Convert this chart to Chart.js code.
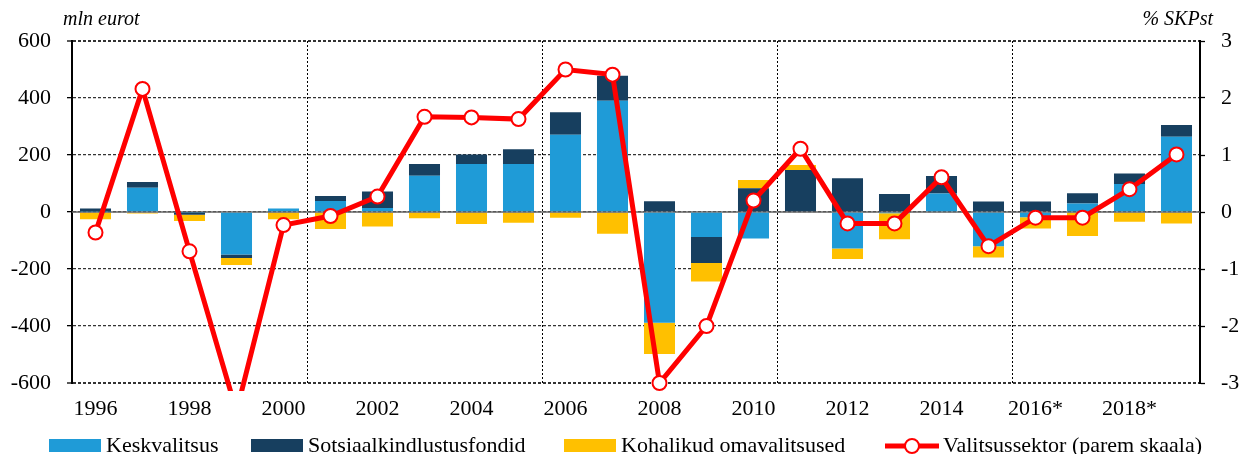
<!DOCTYPE html>
<html>
<head>
<meta charset="utf-8">
<script src="https://cdn.jsdelivr.net/npm/chart.js@4"></script>
<style>
    html, body { margin: 0; padding: 0; background: #fff; }
    #wrap { position: relative; width: 1240px; height: 454px; overflow: hidden; font-family: 'Liberation Serif', serif; color: #000; }
    #chart { position: absolute; left: 0; top: 0; }
    .unit { position: absolute; top: 8px; font-size: 20px; font-style: italic; line-height: 20px; }
    .leg { position: absolute; top: 434px; font-size: 22px; line-height: 22px; white-space: nowrap; }
    .box { position: absolute; top: 439px; width: 52px; height: 13px; }
</style>
</head>
<body>
<div id="wrap">
    <canvas id="chart" width="1240" height="454"></canvas>
    <div class="unit" style="left:63px;">mln eurot</div>
    <div class="unit" style="right:27px;">% SKPst</div>

    <div class="box" style="left:49px;background:#1f9bd7;"></div>
    <div class="leg" style="left:106px;">Keskvalitsus</div>
    <div class="box" style="left:251px;background:#173f5f;"></div>
    <div class="leg" style="left:308px;">Sotsiaalkindlustusfondid</div>
    <div class="box" style="left:564px;background:#ffc000;"></div>
    <div class="leg" style="left:621px;">Kohalikud omavalitsused</div>
    <svg style="position:absolute;left:883px;top:436px;" width="58" height="20">
        <line x1="2" y1="10" x2="56" y2="10" stroke="#ff0000" stroke-width="5"/>
        <circle cx="29" cy="10" r="7" fill="#fff" stroke="#ff0000" stroke-width="2"/>
    </svg>
    <div class="leg" style="left:943px;">Valitsussektor (parem skaala)</div>
</div>
<script>
// --- data (mln eurot, % SKPst) ---
const years = ['1996', '1997', '1998', '1999', '2000', '2001', '2002', '2003', '2004', '2005',
    '2006', '2007', '2008', '2009', '2010', '2011', '2012', '2013', '2014', '2015',
    '2016*', '2017*', '2018*', '2019*'];
const keskvalitsus = [2, 85, -2, -149, 12, 39, 14, 127, 168, 168, 271, 390, -389, -88, -93, 0, -128, -4, 65, -120, -18, 30, 98, 264];
const sotsiaalkindlustus = [10, 20, -8, -12, 0, 17, 58, 41, 34, 52, 79, 88, 38, -91, 83, 147, 118, 63, 61, 37, 37, 36, 37, 41];
const kohalikud = [-25, -5, -22, -25, -25, -60, -51, -22, -42, -38, -20, -76, -109, -65, 29, 18, -37, -92, -3, -40, -40, -84, -34, -40];
const valitsussektor = [-0.36, 2.16, -0.69, -3.5, -0.23, -0.07, 0.27, 1.67, 1.66, 1.63, 2.50, 2.41, -3.0, -2.0, 0.20, 1.11, -0.20, -0.20, 0.61, -0.60, -0.10, -0.10, 0.40, 1.01];
const leftTicks = [-600, -400, -200, 0, 200, 400, 600];
const rightTicks = [-3, -2, -1, 0, 1, 2, 3];

Chart.defaults.font.family = "'Liberation Serif', serif";
Chart.defaults.font.size = 22;
Chart.defaults.color = '#000';

// solid zero line drawn over the bars but under the red line
const zeroLine = {
    id: 'zeroLine',
    afterDatasetDraw(chart, args) {
        if (args.index !== 2) return;
        const y = chart.scales.y.getPixelForValue(0);
        const ctx = chart.ctx;
        ctx.save();
        ctx.strokeStyle = '#666';
        ctx.lineWidth = 1.5;
        ctx.beginPath();
        ctx.moveTo(chart.chartArea.left, y);
        ctx.lineTo(chart.chartArea.right, y);
        ctx.stroke();
        ctx.restore();
    }
};

const barCommon = { order: 1, barPercentage: 0.66, categoryPercentage: 1, yAxisID: 'y', borderWidth: 0 };

new Chart(document.getElementById('chart'), {
    type: 'bar',
    data: {
        labels: years,
        datasets: [
            Object.assign({ label: 'Keskvalitsus', data: keskvalitsus, backgroundColor: '#1f9bd7' }, barCommon),
            Object.assign({ label: 'Sotsiaalkindlustusfondid', data: sotsiaalkindlustus, backgroundColor: '#173f5f' }, barCommon),
            Object.assign({ label: 'Kohalikud omavalitsused', data: kohalikud, backgroundColor: '#ffc000' }, barCommon),
            {
                type: 'line',
                label: 'Valitsussektor (parem skaala)',
                data: valitsussektor,
                yAxisID: 'y1',
                order: 0,
                borderColor: '#ff0000',
                borderWidth: 5,
                tension: 0,
                pointRadius: 7,
                pointBorderWidth: 2,
                pointBackgroundColor: '#fff',
                pointBorderColor: '#ff0000',
                clip: { left: 10, top: 10, right: 10, bottom: 8 }
            }
        ]
    },
    plugins: [zeroLine],
    options: {
        responsive: false,
        animation: false,
        layout: { padding: { top: 41, left: 0, right: 0, bottom: 0 } },
        plugins: {
            legend: { display: false },
            tooltip: { enabled: false }
        },
        scales: {
            x: {
                stacked: true,
                afterFit: s => { s.height = 71; },
                border: { display: false, dash: [2, 2] },
                grid: {
                    offset: true,
                    drawTicks: false,
                    lineWidth: 1,
                    color: c => (c.index % 5 === 0 && c.index > 0 && c.index < years.length) ? '#000' : 'rgba(0,0,0,0)'
                },
                ticks: {
                    autoSkip: false,
                    maxRotation: 0,
                    padding: 13,
                    callback: (v, i) => (i % 2 === 0 ? years[i] : '')
                }
            },
            y: {
                stacked: true,
                position: 'left',
                min: -600,
                max: 600,
                afterFit: s => { s.width = 72; },
                afterBuildTicks: s => { s.ticks = leftTicks.map(v => ({ value: v })); },
                border: { display: true, color: '#000', width: 2, dash: [3, 2] },
                grid: {
                    color: '#333',
                    lineWidth: c => (c.tick && Math.abs(c.tick.value) === 600) ? 2 : 1.3,
                    tickLength: 5,
                    tickColor: '#000',
                    tickWidth: 1.3
                },
                ticks: { padding: 16 }
            },
            y1: {
                position: 'right',
                min: -3,
                max: 3,
                afterFit: s => { s.width = 40; },
                afterBuildTicks: s => { s.ticks = rightTicks.map(v => ({ value: v })); },
                border: { display: true, color: '#000', width: 2 },
                grid: {
                    drawOnChartArea: false,
                    tickLength: 5,
                    tickColor: '#000',
                    tickWidth: 1.3
                },
                ticks: { padding: 16 }
            }
        }
    }
});
</script>
</body>
</html>
